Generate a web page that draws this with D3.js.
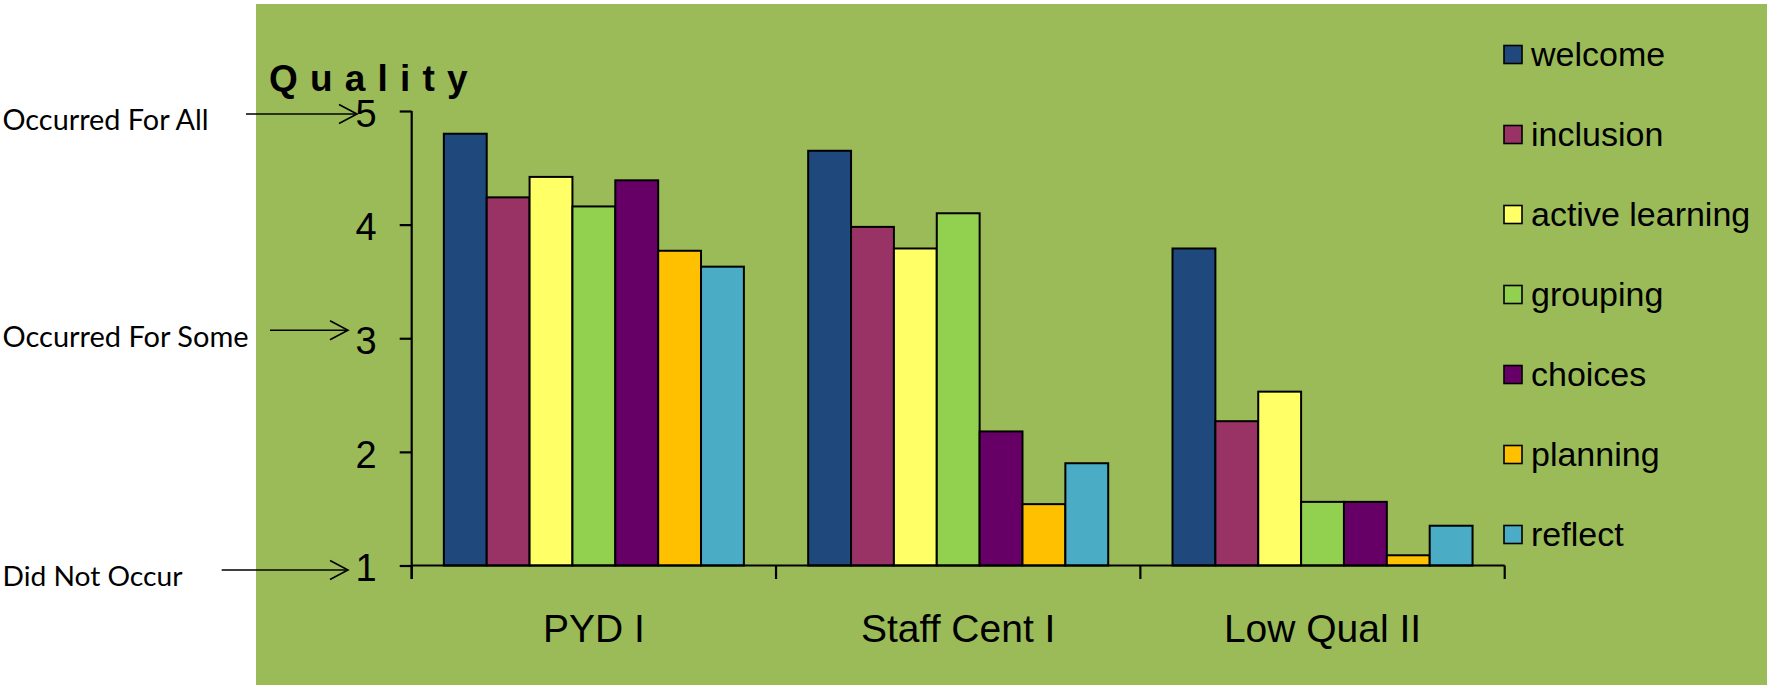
<!DOCTYPE html>
<html>
<head>
<meta charset="utf-8">
<script src="https://cdn.jsdelivr.net/npm/d3@7/dist/d3.min.js"></script>
<style>
  html, body { margin: 0; padding: 0; background: #ffffff; }
  svg { display: block; }
  text { font-family: "Liberation Sans", Arial, sans-serif; fill: #000; }
</style>
</head>
<body>
<svg id="chart" width="1767" height="685"></svg>
<script>
// Program types along the x axis
const categories = ["PYD I", "Staff Cent I", "Low Qual II"];

// Quality practice series, one value per program type
const seriesNames = ["welcome", "inclusion", "active learning", "grouping", "choices", "planning", "reflect"];
const welcome        = [4.80, 4.65, 3.79];
const inclusion      = [4.24, 3.98, 2.27];
const activeLearning = [4.42, 3.79, 2.53];
const grouping       = [4.16, 4.10, 1.56];
const choices        = [4.39, 2.18, 1.56];
const planning       = [3.77, 1.54, 1.09];
const reflect        = [3.63, 1.90, 1.35];
const seriesValues = [welcome, inclusion, activeLearning, grouping, choices, planning, reflect];
const seriesColors = ["#1F497D", "#993366", "#FFFF66", "#92D050", "#660066", "#FFC000", "#4BACC6"];

// Value axis
const yTicks = [1, 2, 3, 4, 5];
const yTitle = "Quality";

// Scale anchors written beside the value axis
const anchorLabels = ["Occurred For All", "Occurred For Some", "Did Not Occur"];
const anchorValues = [5, 3, 1];

const svg = d3.select("#chart");

// Panel background
svg.append("rect")
  .attr("x", 256).attr("y", 4)
  .attr("width", 1767 - 256).attr("height", 685 - 4)
  .attr("fill", "#9BBB59");

const plotLeft = 411.7, plotRight = 1504.7;
const y = d3.scaleLinear().domain([1, 5]).range([565.5, 111]);
const x = d3.scaleBand().domain(categories).range([plotLeft, plotRight]).padding(0);
const xs = d3.scaleBand().domain(seriesNames).range([0, x.bandwidth()])
  .paddingInner(0).paddingOuter(0.75);

// Bars
const rows = [];
categories.forEach((c, ci) => {
  seriesNames.forEach((s, si) => {
    rows.push({ category: c, series: s, value: seriesValues[si][ci], color: seriesColors[si] });
  });
});

svg.append("g").selectAll("rect")
  .data(rows)
  .join("rect")
  .attr("x", d => x(d.category) + xs(d.series))
  .attr("y", d => y(d.value))
  .attr("width", xs.bandwidth())
  .attr("height", d => y(1) - y(d.value))
  .attr("fill", d => d.color)
  .attr("stroke", "#000")
  .attr("stroke-width", 2);

// Value axis
const yAxis = svg.append("g")
  .attr("transform", `translate(${plotLeft},0)`)
  .call(d3.axisLeft(y).tickValues(yTicks).tickFormat(d3.format("d"))
    .tickSize(12).tickSizeOuter(0).tickPadding(23));
yAxis.select(".domain").remove();
yAxis.selectAll(".tick line").attr("stroke", "#000").attr("stroke-width", 2.2);
yAxis.selectAll(".tick text")
  .attr("dy", "0.4em")
  .style("font-size", "38px")
  .style("font-family", "'Liberation Sans', Arial, sans-serif");

svg.append("line")
  .attr("x1", plotLeft).attr("x2", plotLeft)
  .attr("y1", y(5)).attr("y2", y(1) + 13.5)
  .attr("stroke", "#000").attr("stroke-width", 2.2);

// Category axis
svg.append("line")
  .attr("x1", plotLeft).attr("x2", plotRight)
  .attr("y1", y(1)).attr("y2", y(1))
  .attr("stroke", "#000").attr("stroke-width", 2.2);

const boundaries = categories.map(c => x(c)).concat([x(categories[categories.length - 1]) + x.bandwidth()]);
svg.append("g").selectAll("line")
  .data(boundaries)
  .join("line")
  .attr("x1", d => d).attr("x2", d => d)
  .attr("y1", y(1)).attr("y2", y(1) + 13.5)
  .attr("stroke", "#000").attr("stroke-width", 2.2);

svg.append("g").selectAll("text")
  .data(categories)
  .join("text")
  .attr("x", d => x(d) + x.bandwidth() / 2)
  .attr("y", 642)
  .attr("text-anchor", "middle")
  .style("font-size", "39px")
  .text(d => d);

// Axis title
svg.append("text")
  .attr("x", 269).attr("y", 91)
  .style("font-size", "37px")
  .style("font-weight", "bold")
  .style("letter-spacing", "12.2px")
  .text(yTitle);

// Legend
const legend = svg.append("g").selectAll("g")
  .data(seriesNames)
  .join("g")
  .attr("transform", (d, i) => `translate(1504, ${54.5 + i * 80})`);
legend.append("rect")
  .attr("x", 0).attr("y", -9)
  .attr("width", 18).attr("height", 18)
  .attr("fill", (d, i) => seriesColors[i])
  .attr("stroke", "#000").attr("stroke-width", 1.6);
legend.append("text")
  .attr("x", 27).attr("y", 11.5)
  .style("font-size", "34px")
  .text(d => d);

// Scale anchors with arrows pointing at the value axis
const anchorLayout = [
  { textY: 130,   textLen: 206, lineX1: 246,   lineY: y(5) + 3,  tip: 357 },
  { textY: 346.7, textLen: 246, lineX1: 270,   lineY: y(3) - 8,  tip: 348 },
  { textY: 585.7, textLen: 180, lineX1: 221.7, lineY: y(1) + 4.5, tip: 348 }
];
const anchors = svg.append("g").selectAll("g")
  .data(anchorLabels.map((t, i) => ({ label: t, value: anchorValues[i], layout: anchorLayout[i] })))
  .join("g");

anchors.append("text")
  .attr("x", 2.5)
  .attr("y", d => d.layout.textY)
  .attr("textLength", d => d.layout.textLen)
  .attr("lengthAdjust", "spacingAndGlyphs")
  .style("font-family", "Lato, 'Open Sans', sans-serif")
  .style("font-size", (d, i) => i === 2 ? "27px" : "29px")
  .text(d => d.label);

anchors.append("line")
  .attr("x1", d => d.layout.lineX1).attr("x2", d => d.layout.tip)
  .attr("y1", d => d.layout.lineY).attr("y2", d => d.layout.lineY)
  .attr("stroke", "#000").attr("stroke-width", 1.6);

anchors.append("path")
  .attr("d", d => {
    const t = d.layout.tip, yy = d.layout.lineY;
    return `M${t - 18},${yy - 9.5}L${t},${yy}L${t - 18},${yy + 9.5}`;
  })
  .attr("fill", "none")
  .attr("stroke", "#000").attr("stroke-width", 1.6);
</script>
</body>
</html>
